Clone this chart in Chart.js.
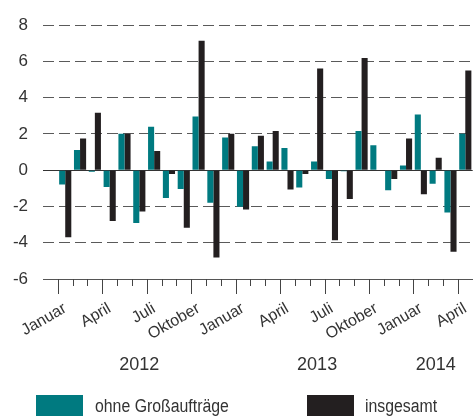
<!DOCTYPE html>
<html><head><meta charset="utf-8">
<script src="https://cdn.jsdelivr.net/npm/chart.js@4"></script>
<style>
html,body{margin:0;padding:0;overflow:hidden;background:#fff;width:473px;height:418px}
#wrap{position:relative;width:480px;height:418px}
canvas{display:block}
.box{position:absolute;top:395px;width:47px;height:21px}
.leg{position:absolute;top:394px;font-family:"Liberation Sans",Arial,sans-serif;font-size:18px;line-height:24px;color:#333;white-space:nowrap;transform:scaleX(0.88);transform-origin:0 0}
</style></head>
<body>
<div id="wrap">
<canvas id="c" width="480" height="418"></canvas>
<div class="box" style="left:36px;background:#007a80"></div><div class="leg" style="left:95px">ohne Großaufträge</div>
<div class="box" style="left:307px;background:#231f20"></div><div class="leg" style="left:365px">insgesamt</div>
</div>
<script>
// leading empty slot (Dez 2011), then Jan 2012 .. Apr 2014
const monthTicks = ['', 'Januar','','','April','','','Juli','','','Oktober','','',
  'Januar','','','April','','','Juli','','','Oktober','','',
  'Januar','','','April'];
const yearTicks = ['', '','','','','','2012','','','','','','',
  '','','','','','2013','','','','','','',
  '','2014','',''];
const ohneGrossauftraege = [null,
  -0.79, 1.11, -0.08, -0.93, 2.01, -2.91, 2.40, -1.53, -1.04, 2.96, -1.80, 1.80,
  -2.01, 1.32, 0.48, 1.22, -0.95, 0.48, -0.48, -0.06, 2.17, 1.38, -1.11, 0.26,
  3.07, -0.74, -2.33, 2.01];
const insgesamt = [null,
  -3.70, 1.75, 3.17, -2.80, 2.01, -2.28, 1.06, -0.21, -3.17, 7.14, -4.81, 2.01,
  -2.17, 1.90, 2.17, -1.06, -0.21, 5.61, -3.86, -1.59, 6.19, 0.02, -0.48, 1.75,
  -1.32, 0.69, -4.50, 5.50];
const yMin = -6, yMax = 8, yStep = 2;

const FONT = '"Liberation Sans",Arial,sans-serif';
const TEXT = '#333333';

const tickPlugin = {
  id: 'quarterTicks',
  afterDraw(chart) {
    const xs = chart.scales.x;
    const ctx = chart.ctx;
    const n = chart.data.labels.length;
    ctx.save();
    ctx.strokeStyle = '#444';
    ctx.lineWidth = 1;
    for (let i = 1; i < n; i++) {
      const px = (xs.getPixelForTick(i - 1) + xs.getPixelForTick(i)) / 2;
      const major = (i - 1) % 3 === 0;
      const len = major ? 15 : 7;
      const x = Math.round(px) + 0.5;
      ctx.beginPath();
      ctx.moveTo(x, xs.top);
      ctx.lineTo(x, xs.top + len);
      ctx.stroke();
    }
    ctx.restore();
  }
};

new Chart(document.getElementById('c'), {
  type: 'bar',
  data: {
    labels: monthTicks.map((m, i) => i),
    datasets: [
      { label: 'ohne Großaufträge', data: ohneGrossauftraege, backgroundColor: '#007a80',
        categoryPercentage: 0.82, barPercentage: 1.0 },
      { label: 'insgesamt', data: insgesamt, backgroundColor: '#231f20',
        categoryPercentage: 0.82, barPercentage: 1.0 }
    ]
  },
  options: {
    responsive: false,
    animation: false,
    layout: { padding: { top: 15, right: 6, bottom: 34, left: 0 } },
    plugins: { legend: { display: false }, tooltip: { enabled: false } },
    scales: {
      x: {
        offset: true,
        afterFit(s) { s.height = 60; },
        grid: { display: true, drawOnChartArea: false, offset: true, tickLength: 15,
                tickColor: 'rgba(0,0,0,0)' },
        border: { display: true, color: '#555', width: 1 },
        ticks: {
          autoSkip: false, minRotation: 30, maxRotation: 30, padding: 5,
          color: TEXT, font: { family: FONT, size: 16 },
          callback: (v, i) => monthTicks[i]
        }
      },
      x2: {
        type: 'category',
        position: 'bottom',
        labels: yearTicks,
        offset: true,
        afterFit(s) { s.height = 45; },
        grid: { display: false },
        border: { display: false },
        ticks: { autoSkip: false, maxRotation: 0, padding: 7, color: TEXT,
                 font: { family: FONT, size: 18 } }
      },
      y: {
        min: yMin, max: yMax,
        afterFit(s) { s.width = 43; },
        ticks: { stepSize: yStep, padding: 15, color: TEXT, font: { family: FONT, size: 17 } },
        grid: { drawTicks: false, lineWidth: 1,
                color: c => (c.tick && c.tick.value === 0) ? '#333' : '#5a5a5a' },
        border: { display: false, dash: c => (c.tick && c.tick.value === 0) ? [] : [11, 5] }
      }
    }
  },
  plugins: [tickPlugin]
});
</script>
</body></html>
